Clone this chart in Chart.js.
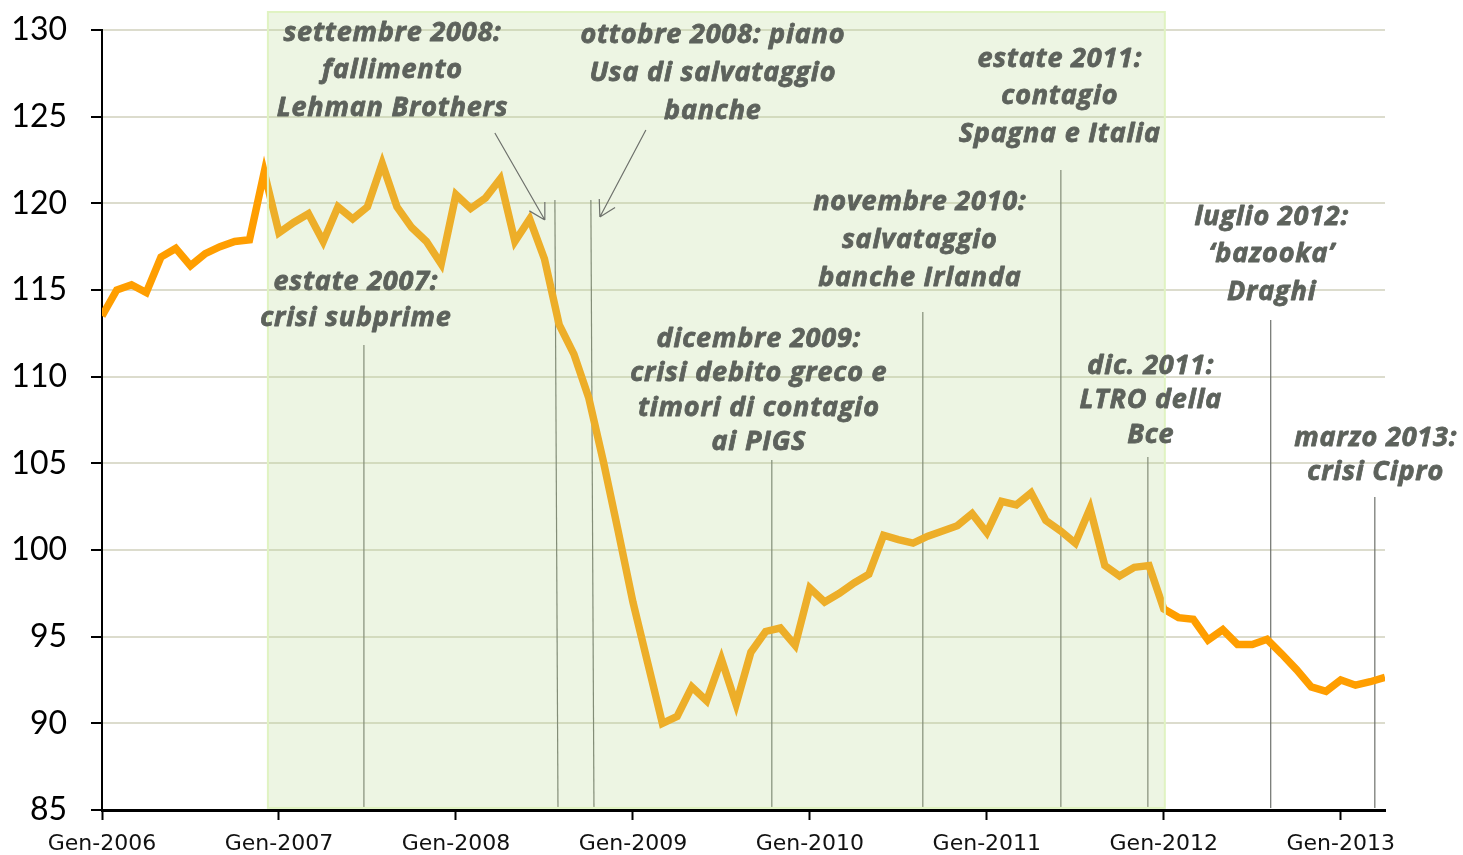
<!DOCTYPE html>
<html>
<head>
<meta charset="utf-8">
<script src="https://cdn.jsdelivr.net/npm/chart.js@4.4.1/dist/chart.umd.min.js"></script>
<style>
  html, body { margin: 0; padding: 0; background: #fff; }
  canvas { display: block; }
</style>
</head>
<body>
<canvas id="chart" width="1463" height="855"></canvas>
<script>
// indice mensile, gen-2006 .. apr-2013
const values = [
  113.5, 115.0, 115.3, 114.85, 116.9, 117.4, 116.4, 117.1, 117.5, 117.8, 117.9, 121.8,
  118.3, 118.9, 119.4, 117.8, 119.8, 119.1, 119.8, 122.3, 119.8, 118.6, 117.8, 116.5,
  120.5, 119.7, 120.3, 121.4, 117.8, 119.1, 116.8, 113.0, 111.3, 108.8, 105.1, 101.1,
  97.0, 93.5, 90.0, 90.4, 92.1, 91.3, 93.7, 91.1, 94.1, 95.3, 95.5, 94.5,
  97.8, 97.0, 97.5, 98.1, 98.6, 100.85, 100.6, 100.4, 100.8, 101.1, 101.4, 102.1,
  101.0, 102.8, 102.6, 103.3, 101.7, 101.1, 100.4, 102.4, 99.1, 98.5, 99.0, 99.1,
  96.6, 96.1, 96.0, 94.8, 95.4, 94.55, 94.55, 94.85, 94.0, 93.1, 92.1, 91.85,
  92.5, 92.2, 92.4, 92.65,
];

const yearLabels = ["Gen-2006", "Gen-2007", "Gen-2008", "Gen-2009", "Gen-2010", "Gen-2011", "Gen-2012", "Gen-2013"];

// periodo di crisi evidenziato (indice mese, valore)
const crisisSpan = { from: 11.25, to: 72.07, top: 131.04, bottom: 85.12 };

// note: x = indice mese del testo, y = valore della prima riga
const notes = [
  { x: 19.7, y: 129.83, lh: 37.5, lines: ["settembre 2008:", "fallimento", "Lehman Brothers"] },
  { x: 41.42, y: 129.71, lh: 38, lines: ["ottobre 2008: piano", "Usa di salvataggio", "banche"] },
  { x: 64.95, y: 128.33, lh: 37.5, lines: ["estate 2011:", "contagio", "Spagna e Italia"] },
  { x: 55.46, y: 120.08, lh: 38, lines: ["novembre 2010:", "salvataggio", "banche Irlanda"] },
  { x: 79.32, y: 119.21, lh: 37.5, lines: ["luglio 2012:", "\u2018bazooka\u2019", "Draghi"] },
  { x: 17.22, y: 115.46, lh: 36, lines: ["estate 2007:", "crisi subprime"] },
  { x: 44.54, y: 112.17, lh: 34.5, lines: ["dicembre 2009:", "crisi debito greco e", "timori di contagio", "ai PIGS"] },
  { x: 71.12, y: 110.62, lh: 34.5, lines: ["dic. 2011:", "LTRO della", "Bce"] },
  { x: 86.37, y: 106.46, lh: 34.5, lines: ["marzo 2013:", "crisi Cipro"] },
];

// linee verticali degli eventi: x in alto, x in basso, valore di partenza
const eventLines = [
  [17.76, 17.76, 111.83],
  [30.71, 30.92, 120.19],
  [33.15, 33.36, 120.19],
  [45.42, 45.42, 105.19],
  [55.66, 55.66, 113.73],
  [65.02, 65.02, 121.92],
  [70.92, 70.92, 105.37],
  [79.25, 79.25, 113.27],
  [86.31, 86.31, 103.06],
];

// frecce: da (x1,y1) a (x2,y2)
const arrows = [
  [26.64, 124.06, 30.03, 119.04],
  [36.88, 124.23, 33.76, 119.21],
];

const noteFont = "italic bold 27px 'Open Sans'";
const noteColor = "#5d625c";

const overlay = {
  id: "overlay",
  beforeDatasetsDraw(chart) {
    const { ctx, scales: { x, y } } = chart;
    const bottom = y.getPixelForValue(85.12);
    ctx.save();
    ctx.strokeStyle = "#6e716c";
    ctx.lineWidth = 1.2;
    eventLines.forEach(([xt, xb, top]) => {
      ctx.beginPath();
      ctx.moveTo(x.getPixelForValue(xt), y.getPixelForValue(top));
      ctx.lineTo(x.getPixelForValue(xb), bottom);
      ctx.stroke();
    });
    ctx.restore();
  },
  afterDatasetsDraw(chart) {
    const { ctx, scales: { x, y } } = chart;
    ctx.save();
    const l = x.getPixelForValue(crisisSpan.from);
    const r = x.getPixelForValue(crisisSpan.to);
    const t = y.getPixelForValue(crisisSpan.top);
    const b = y.getPixelForValue(crisisSpan.bottom);
    ctx.fillStyle = "rgba(190, 218, 150, 0.27)";
    ctx.fillRect(l, t, r - l, b - t);
    ctx.strokeStyle = "#e0f3c2";
    ctx.lineWidth = 2;
    ctx.strokeRect(l, t, r - l, b - t);

    ctx.strokeStyle = "#6e716c";
    ctx.lineWidth = 1.2;
    arrows.forEach(([x1, y1, x2, y2]) => {
      const ax = x.getPixelForValue(x1), ay = y.getPixelForValue(y1);
      const bx = x.getPixelForValue(x2), by = y.getPixelForValue(y2);
      const ang = Math.atan2(by - ay, bx - ax);
      ctx.beginPath();
      ctx.moveTo(ax, ay);
      ctx.lineTo(bx, by);
      [-0.52, 0.52].forEach((d) => {
        ctx.moveTo(bx, by);
        ctx.lineTo(bx - 18 * Math.cos(ang + d), by - 18 * Math.sin(ang + d));
      });
      ctx.stroke();
    });

    ctx.font = noteFont;
    ctx.letterSpacing = "0.8px";
    ctx.fillStyle = noteColor;
    ctx.strokeStyle = noteColor;
    ctx.lineWidth = 0.8;
    ctx.lineJoin = "round";
    ctx.textAlign = "center";
    ctx.textBaseline = "middle";
    notes.forEach((n) => {
      const px = x.getPixelForValue(n.x);
      const py = y.getPixelForValue(n.y);
      n.lines.forEach((line, i) => {
        ctx.fillText(line, px, py + i * n.lh);
        ctx.strokeText(line, px, py + i * n.lh);
      });
    });
    ctx.restore();
  },
};

new Chart(document.getElementById("chart"), {
  type: "line",
  data: {
    datasets: [{
      data: values.map((v, i) => ({ x: i, y: v })),
      borderColor: "#ff9e00",
      borderWidth: 7.5,
      borderJoinStyle: "miter",
      pointRadius: 0,
      tension: 0,
    }],
  },
  options: {
    responsive: false,
    animation: false,
    layout: { padding: { top: 30, right: 78, left: 0, bottom: 0 } },
    plugins: { legend: { display: false }, tooltip: { enabled: false } },
    scales: {
      x: {
        type: "linear",
        min: 0,
        max: 87,
        afterBuildTicks: (s) => { s.ticks = yearLabels.map((_, i) => ({ value: i * 12 })); },
        afterFit: (s) => { s.height = 45; s.paddingLeft = 0; s.paddingRight = 0; },
        ticks: {
          callback: (v) => yearLabels[v / 12],
          autoSkip: false,
          maxRotation: 0,
          padding: 11,
          color: "#111",
          font: { family: "DejaVu Sans", size: 22 },
        },
        grid: { drawOnChartArea: false, tickLength: 10, tickColor: "#000", tickWidth: 2 },
        border: { color: "#000", width: 3 },
      },
      y: {
        min: 85,
        max: 130,
        afterFit: (s) => { s.width = 102; s.paddingTop = 0; s.paddingBottom = 0; },
        ticks: {
          stepSize: 5,
          padding: 24,
          color: "#000",
          font: { family: "Lato", size: 32 },
        },
        grid: { color: "#dcdccd", lineWidth: 2, tickColor: "#000", tickLength: 11, tickWidth: 2 },
        border: { color: "#000", width: 2 },
      },
    },
  },
  plugins: [overlay],
});
</script>
</body>
</html>
